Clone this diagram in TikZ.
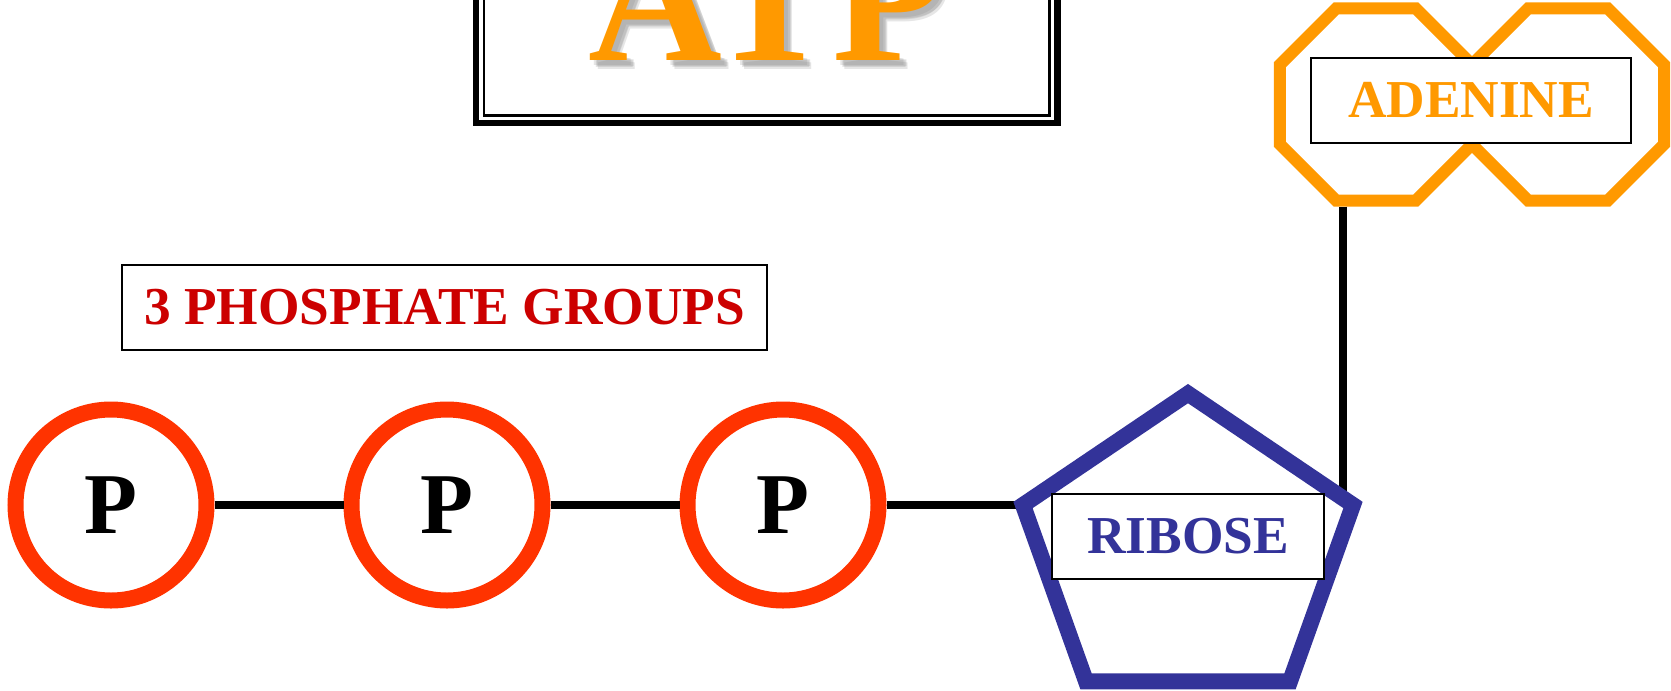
\documentclass[tikz,border=0pt]{standalone}
\usepackage{fontspec}
\setmainfont{Liberation Serif}
\usepackage{xcolor}
\usepackage{tikz}
\usetikzlibrary{positioning, shapes.geometric, shadows, calc}

\definecolor{atporange}{HTML}{FF9900}
\definecolor{phosred}{HTML}{FF3300}
\definecolor{labelred}{HTML}{CC0000}
\definecolor{riboblue}{HTML}{333399}

\begin{document}
\begin{tikzpicture}[
    x=0.75pt, y=-0.75pt,
    node distance=96.75pt,
    phosphate/.style={circle, draw=phosred, fill=white, line width=12pt, minimum size=143.25pt, inner sep=0pt, font=\fontsize{65}{65}\selectfont\bfseries},
    ring/.style={regular polygon, regular polygon sides=8, draw=atporange, line width=9pt, minimum size=155.9pt, inner sep=0pt},
    namebox/.style={rectangle, draw, fill=white, line width=1.5pt, inner sep=0pt, minimum height=63.75pt, font=\fontsize{40}{40}\selectfont\bfseries,
        drop shadow={shadow xshift=0.8pt, shadow yshift=-0.8pt, fill=gray!70, opacity=1}},
    title/.style={anchor=base, inner sep=0pt, font=\fontsize{139}{139}\selectfont\bfseries},
    bond/.style={line width=6pt}
]
\useasboundingbox (0,0) rectangle (1671,690);
\clip (0,0) rectangle (1671,690);

% Title frame
\draw[line width=5pt] (476,-300) rectangle (1057.5,123);
\draw[line width=1.7pt] (484,-300) rectangle (1049.5,115.5);
\foreach \i/\dx/\dy in {1/4/5, 2/6/7, 3/8/9, 4/7/6}
    \node[title, gray, opacity=0.2] (atpshade\i) at (767+\dx,60+\dy) {ATP};
\node[title, atporange] (atp) at (767,60) {ATP};

% Phosphate chain
\node[phosphate] (p1) at (111,505) {P};
\node[phosphate, right=of p1] (p2) {P};
\node[phosphate, right=of p2] (p3) {P};
\node[namebox, text=labelred, minimum width=483.75pt] (phoslabel) at (444.5,307.5) {3 PHOSPHATE GROUPS};

% Adenine rings
\node[ring] (adenineL) at (1376,104.5) {};
\node[ring] (adenineR) at (1568,104.5) {};

% Ribose corners
\coordinate (rtop) at (1188,393.6);
\coordinate (rright) at (1353,505);
\coordinate (rbr) at (1290,681.3);
\coordinate (rbl) at (1086,681.3);
\coordinate (rleft) at (1023,505);
\coordinate (rlink) at ($(rtop)!0.94!(rright)$);

% Bonds
\draw[bond] (p1) -- (p2);
\draw[bond] (p2) -- (p3);
\draw[bond] (p3) -- (rleft);
\draw[bond] (adenineL.south -| rlink) -- (rlink);

% Ribose ring
\draw[riboblue, line width=12pt, line join=miter] (rtop) -- (rright) -- (rbr) -- (rbl) -- (rleft) -- cycle;

% Labels
\node[namebox, text=atporange, minimum width=240pt] (adeninelabel) at (1471,100) {ADENINE};
\node[namebox, text=riboblue, minimum width=204pt] (riboselabel) at (1188,536.5) {RIBOSE};

\end{tikzpicture}
\end{document}
